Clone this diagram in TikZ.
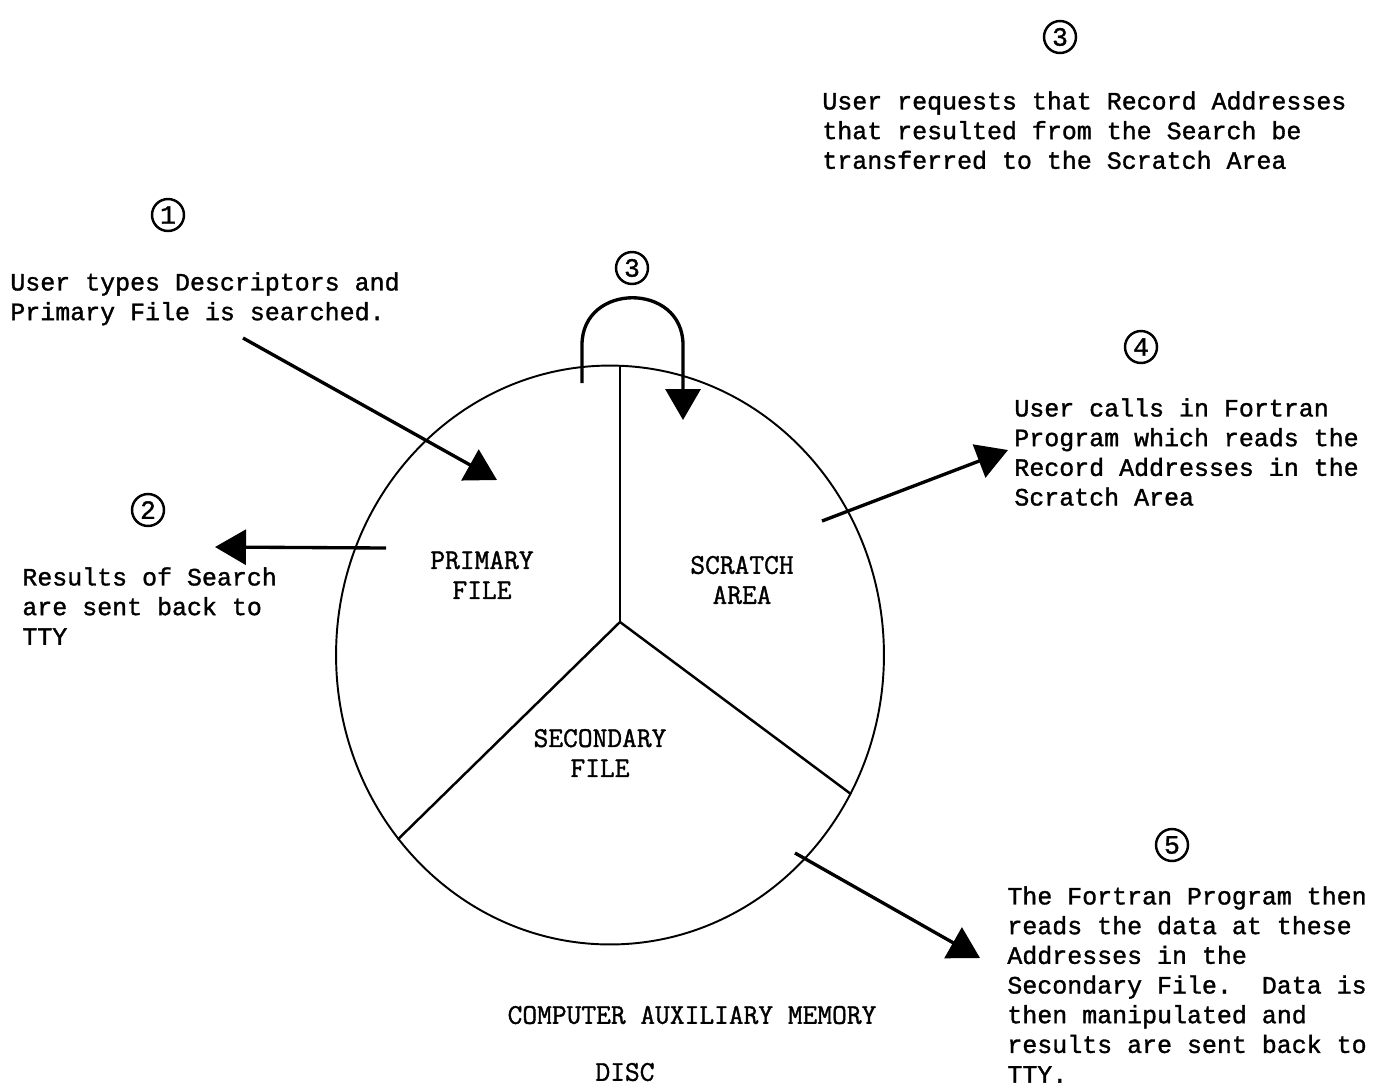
\documentclass[tikz,border=0pt]{standalone}
\usepackage{fontspec}
\usepackage{tikz}
\usetikzlibrary{arrows.meta}
\usetikzlibrary{shapes}
\newfontfamily\typer{Liberation Mono}[FakeBold=1.3]
\newfontfamily\capsfont{Latin Modern Mono}[FakeBold=1.3]
\tikzset{x=0.02cm,y=-0.02cm,
 note/.style={font=\typer\fontsize{14.2}{16.9}\selectfont,align=left,inner sep=0pt,anchor=north west},
 region/.style={font=\capsfont\fontsize{16.3}{17.1}\selectfont,align=center,inner sep=0pt},
 num/.style={draw,circle,line width=1.4pt,minimum size=0.64cm,inner sep=0pt,
  font=\typer\fontsize{15}{15}\selectfont},
 flow/.style={line width=1.9pt,-{Triangle[length=0.62cm,width=0.7cm]}},
 wall/.style={line width=1.4pt},
 }

\begin{document}
\begin{tikzpicture}
        \useasboundingbox (0,0) rectangle (1378,1089);
        % the disc and its three areas
        \node[ellipse,draw,line width=1.1pt,inner sep=0pt,
            minimum width=10.96cm,minimum height=11.58cm] (disc) at (610,655) {};
        \coordinate (hub) at (620,622);
        \draw[wall] (hub) -- (hub |- disc.north);
        \draw[wall] (hub) -- (disc.221);
        \draw[wall] (hub) -- (disc.330);
        \node[region] (primary) at (482,575) {PRIMARY\\FILE};
        \node[region] (scratch) at (742,580) {SCRATCH\\AREA};
        \node[region] (secondary) at (600,753) {SECONDARY\\FILE};
        \node[region] (memory) at (692,1015) {COMPUTER AUXILIARY MEMORY};
        \node[region] (discname) at (625,1072) {DISC};
        % steps
        \node[num] (n1) at (168,215) {1};
        \node[note] (t1) at (10,272) {User types Descriptors and\\Primary File is searched.};
        \node[num] (n2) at (148,510) {2};
        \node[note] (t2) at (22,567) {Results of Search\\are sent back to\\TTY};
        \node[num] (n3) at (1060,37) {3};
        \node[note] (t3) at (822,91) {User requests that Record Addresses\\that resulted from the Search be\\transferred to the Scratch Area};
        \node[num] (n3b) at (632,268) {3};
        \node[num] (n4) at (1141,347) {4};
        \node[note] (t4) at (1014,398) {User calls in Fortran\\Program which reads the\\Record Addresses in the\\Scratch Area};
        \node[num] (n5) at (1172,845) {5};
        \node[note] (t5) at (1007,886) {The Fortran Program then\\reads the data at these\\Addresses in the\\Secondary File.\ \ Data is\\then manipulated and\\results are sent back to\\TTY.};
        % arrows
        \coordinate (a1s) at (243,338);
        \coordinate (a1e) at (497,480);
        \coordinate (a2s) at (386,548);
        \coordinate (a2e) at (215,547);
        \coordinate (l3s) at (582,383);
        \coordinate (l3e) at (683,420);
        \coordinate (a4s) at (822,521);
        \coordinate (a4e) at (1008,450);
        \coordinate (a5s) at (795,853);
        \coordinate (a5e) at (980,958);
        \draw[flow] (a1s) -- (a1e);
        \draw[flow] (a2s) -- (a2e);
        \draw[flow] (l3s) -- ++(0,-38) .. controls (582,282) and (683,282) .. (683,345) -- (l3e);
        \draw[flow] (a4s) -- (a4e);
        \draw[flow] (a5s) -- (a5e);
    \end{tikzpicture}
\end{document}
